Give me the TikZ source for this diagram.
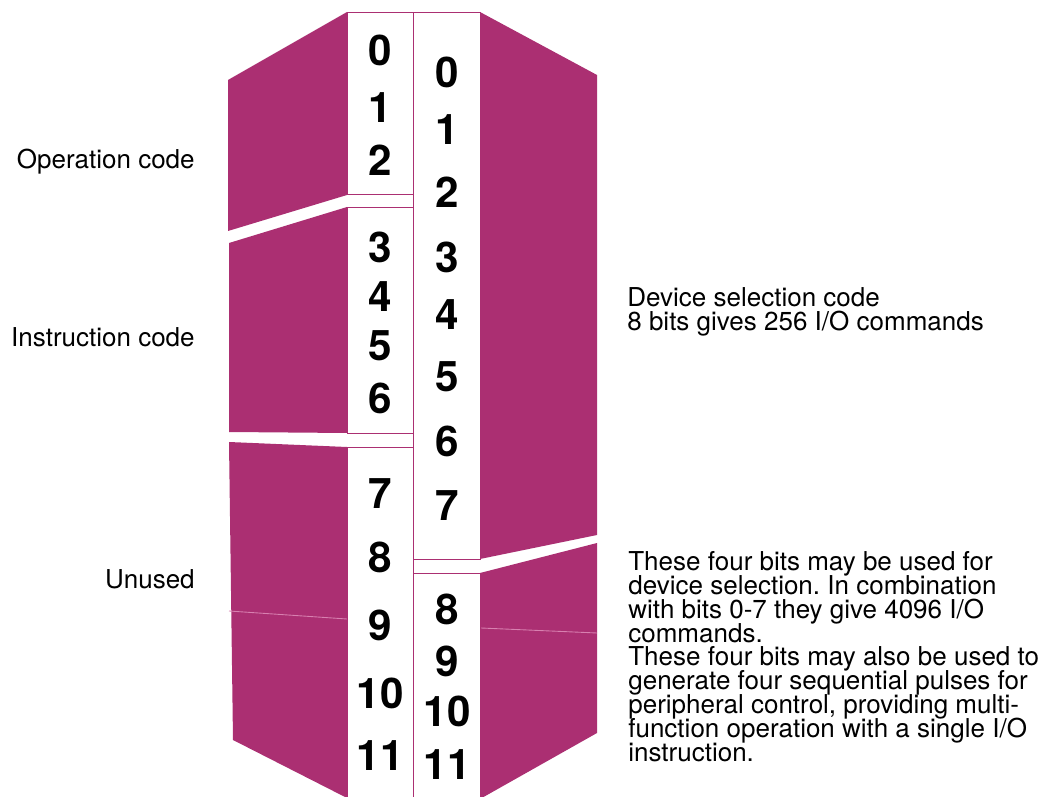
\documentclass[tikz,border=0pt]{standalone}
\usepackage{fontspec}
\setmainfont{TeX Gyre Heros}
\usepackage{tikz}
\frenchspacing
\definecolor{wordmag}{RGB}{171,47,114}
\definecolor{seammag}{RGB}{216,128,176}
\tikzset{
  piece/.style={fill=wordmag,draw=none},
  slot/.style={fill=white,draw=wordmag,line width=0.5pt},
  seam/.style={draw=seammag,line width=0.5pt},
  bitnum/.style={inner sep=0pt,font=\fontsize{24}{24}\selectfont\bfseries},
  fieldname/.style={inner sep=0pt,anchor=base east,font=\fontsize{14.8}{14}\selectfont},
  fieldnote/.style={inner sep=0pt,anchor=north west,align=left,font={\fontsize{14.8}{13.6}\selectfont\lineskiplimit=-20pt}}
}

\begin{document}
\begin{tikzpicture}[x=0.02cm,y=-0.02cm]
  \clip (0,0) rectangle (1046,797);
  % magenta panels, left side
  \fill[piece] (228,80) -- (347,12) -- (347,195) -- (228,231) -- cycle;
  \fill[piece] (229,243) -- (347,207) -- (347,433) -- (229,432) -- cycle;
  \fill[piece] (229,442) -- (347,447) -- (347,798) -- (233,740) -- cycle;
  \draw[seam] (229,611) -- (347,619);
  % magenta panels, right side
  \fill[piece] (480,12) -- (597,75) -- (597,535) -- (480,559) -- cycle;
  \fill[piece] (480,573) -- (597,543) -- (597,733) -- (480,799) -- cycle;
  \draw[seam] (481,628) -- (597,633);
  % bit strips
  \draw[slot] (347,12) rectangle (413,194);
  \draw[slot] (347,207) rectangle (413,433);
  \draw[slot] (347,447) rectangle (413,805);
  \draw[slot] (413,12) rectangle (480,559);
  \draw[slot] (413,573) rectangle (480,805);
  % bit numbers
  \foreach \n/\y in {0/50,1/108,2/160,3/247,4/297,5/346,6/398,7/494,8/557,9/625,10/693,11/756}
    \node[bitnum] (l\n) at (380,\y) {\n};
  \foreach \n/\y in {0/72,1/130,2/192,3/257,4/315,5/377,6/441,7/506,8/609,9/661,10/711,11/765}
    \node[bitnum] (r\n) at (447,\y) {\n};
  % field names
  \node[fieldname] (opcode) at (195,169) {Operation code};
  \node[fieldname] (instr) at (195,347) {Instruction code};
  \node[fieldname] (unused) at (195,588) {Unused};
  \node[fieldnote] (devsel) at (627,287) {Device selection code\\8 bits gives 256 I/O commands};
  \node[fieldnote] (extra) at (628,551) {These four bits may be used for\\device selection. In combination\\with bits 0-7 they give 4096 I/O\\commands.\\These four bits may also be used to\\generate four sequential pulses for\\peripheral control, providing multi-\\function operation with a single I/O\\instruction.};
\end{tikzpicture}
\end{document}
